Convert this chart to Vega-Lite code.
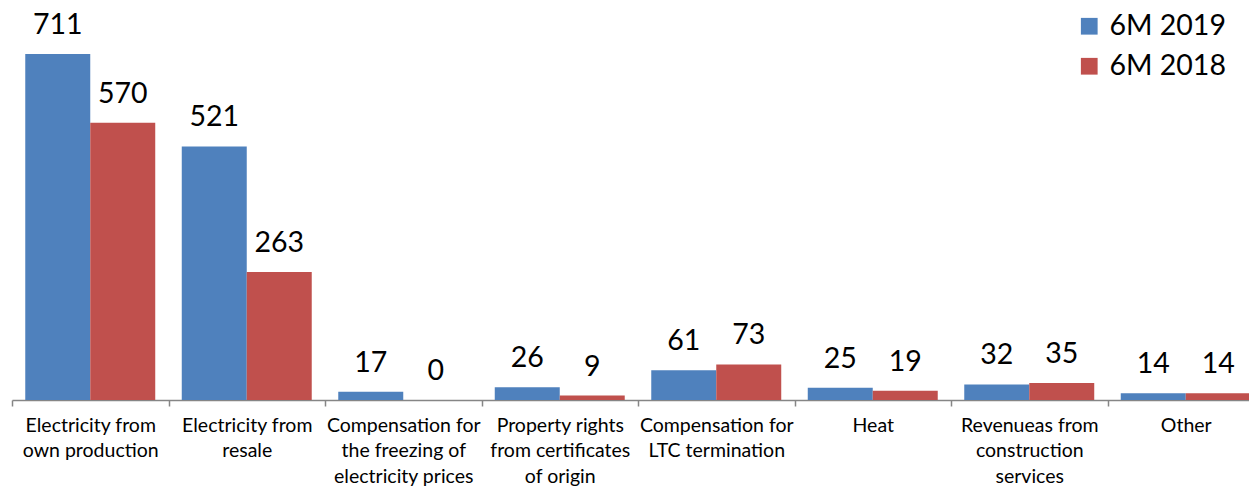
{
  "$schema": "https://vega.github.io/schema/vega-lite/v6.json",
  "autosize": "none",
  "width": 1252,
  "height": 400,
  "padding": {"left": 12, "top": 0, "right": 0, "bottom": 87},
  "background": "white",
  "config": {"view": {"stroke": null}, "font": "Lato"},
  "data": {"values": [
    {"cat": "Electricity from|own production", "series": "6M 2019", "value": 711},
    {"cat": "Electricity from|own production", "series": "6M 2018", "value": 570},
    {"cat": "Electricity from|resale", "series": "6M 2019", "value": 521},
    {"cat": "Electricity from|resale", "series": "6M 2018", "value": 263},
    {"cat": "Compensation for|the freezing of|electricity prices", "series": "6M 2019", "value": 17},
    {"cat": "Compensation for|the freezing of|electricity prices", "series": "6M 2018", "value": 0},
    {"cat": "Property rights|from certificates|of origin", "series": "6M 2019", "value": 26},
    {"cat": "Property rights|from certificates|of origin", "series": "6M 2018", "value": 9},
    {"cat": "Compensation for|LTC termination", "series": "6M 2019", "value": 61},
    {"cat": "Compensation for|LTC termination", "series": "6M 2018", "value": 73},
    {"cat": "Heat", "series": "6M 2019", "value": 25},
    {"cat": "Heat", "series": "6M 2018", "value": 19},
    {"cat": "Revenueas from|construction|services", "series": "6M 2019", "value": 32},
    {"cat": "Revenueas from|construction|services", "series": "6M 2018", "value": 35},
    {"cat": "Other", "series": "6M 2019", "value": 14},
    {"cat": "Other", "series": "6M 2018", "value": 14}
  ]},
  "encoding": {
    "x": {
      "field": "cat", "type": "nominal", "sort": null,
      "scale": {"paddingInner": 0, "paddingOuter": 0},
      "axis": {
        "title": null, "labelAngle": 0,
        "labelExpr": "isString(datum.value) ? split(datum.value, '|') : ''",
        "labelFontSize": 19.5, "labelLineHeight": 25.5, "labelColor": "#000000",
        "labelBaseline": "top", "labelPadding": 10,
        "tickBand": "extent", "tickSize": 6, "tickColor": "#868686",
        "domainColor": "#868686", "domainWidth": 1.5, "tickWidth": 1.5,
        "labelFont": "Lato"
      }
    },
    "xOffset": {
      "field": "series", "type": "nominal", "sort": ["6M 2019", "6M 2018"],
      "scale": {"paddingInner": 0, "paddingOuter": 0.204}
    },
    "y": {
      "field": "value", "type": "quantitative",
      "scale": {"domain": [0, 822], "nice": false},
      "axis": null
    }
  },
  "layer": [
    {
      "mark": {"type": "bar"},
      "encoding": {
        "color": {
          "field": "series", "type": "nominal",
          "scale": {"domain": ["6M 2019", "6M 2018"], "range": ["#4F81BD", "#C0504D"]},
          "legend": {
            "title": null, "orient": "none", "legendX": 1063, "legendY": 12,
            "symbolType": "square", "symbolSize": 280, "symbolStrokeWidth": 0,
            "labelFontSize": 28.5, "labelFont": "Lato", "labelColor": "#000000",
            "rowPadding": 11, "labelOffset": 6
          }
        }
      }
    },
    {
      "mark": {"type": "text", "fontSize": 28.5, "dy": -20, "baseline": "alphabetic", "color": "#000000", "font": "Lato"},
      "encoding": {"text": {"field": "value", "type": "quantitative"}}
    }
  ]
}
